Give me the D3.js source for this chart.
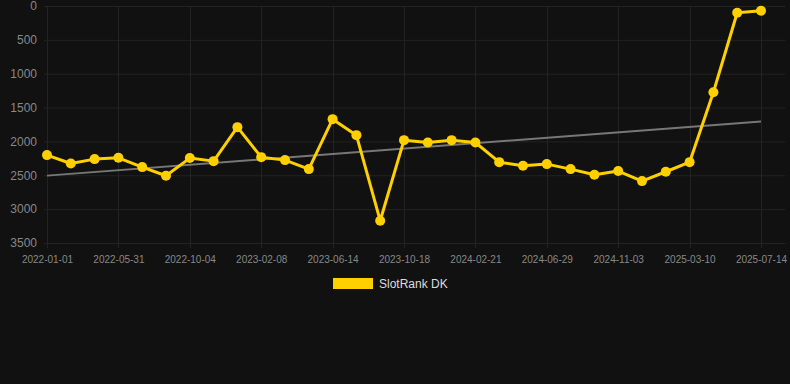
<!DOCTYPE html>
<html>
<head>
<meta charset="utf-8">
<script src="https://cdn.jsdelivr.net/npm/d3@7"></script>
<style>
  html, body { margin: 0; padding: 0; background: #111111; }
  svg { display: block; font-family: Arial, "Liberation Sans", sans-serif; }
</style>
</head>
<body>
<svg id="chart" width="790" height="384"></svg>
<script>
const dates = [
  '2022-01-01', '2022-02-20', '2022-04-11', '2022-05-31',
  '2022-07-12', '2022-08-23', '2022-10-04',
  '2022-11-15', '2022-12-27', '2023-02-08',
  '2023-03-22', '2023-05-03', '2023-06-14',
  '2023-07-26', '2023-09-06', '2023-10-18',
  '2023-11-29', '2024-01-10', '2024-02-21',
  '2024-04-03', '2024-05-16', '2024-06-29',
  '2024-08-10', '2024-09-22', '2024-11-03',
  '2024-12-15', '2025-01-26', '2025-03-10',
  '2025-04-21', '2025-06-02', '2025-07-14'
];
const rank = [
  2202, 2326, 2261, 2242, 2379, 2507, 2246, 2291, 1789, 2232,
  2276, 2409, 1671, 1907, 3171, 1981, 2016, 1981, 2016, 2306,
  2360, 2335, 2409, 2493, 2438, 2586, 2448, 2306, 1273, 99, 69
];
const trend = [2505, 1705]; // trend line value at first and last date
const yTicks = [0, 500, 1000, 1500, 2000, 2500, 3000, 3500];
const seriesName = 'SlotRank DK';

const width = 790, height = 384;
const margin = { top: 6, right: 29, bottom: 141, left: 47 };
const svg = d3.select('#chart');

const x = d3.scalePoint().domain(dates).range([margin.left, width - margin.right]);
const y = d3.scaleLinear().domain([0, 3500]).range([margin.top, height - margin.bottom]);

const shown = dates.filter((d, i) => i % 3 === 0);

// grid
const grid = svg.append('g');
grid.selectAll('.hg').data(yTicks).enter().append('line')
  .attr('x1', margin.left - 3).attr('x2', width - 5)
  .attr('y1', d => y(d) + 0.5).attr('y2', d => y(d) + 0.5)
  .attr('stroke', '#232323').attr('stroke-width', 1);
grid.selectAll('.vg').data(shown).enter().append('line')
  .attr('x1', d => Math.round(x(d)) + 0.5).attr('x2', d => Math.round(x(d)) + 0.5)
  .attr('y1', margin.top).attr('y2', y(3500) + 5)
  .attr('stroke', '#232323').attr('stroke-width', 1);

// axes
const yAxis = svg.append('g')
  .attr('transform', `translate(${margin.left - 10},0)`)
  .call(d3.axisLeft(y).tickValues(yTicks).tickFormat(d3.format('d')).tickSize(0).tickPadding(0));
yAxis.select('.domain').remove();
yAxis.selectAll('text').attr('fill', '#888').attr('font-size', 12);

const xAxis = svg.append('g')
  .attr('transform', `translate(0,${y(3500) + 5})`)
  .call(d3.axisBottom(x).tickValues(shown).tickSize(0).tickPadding(8));
xAxis.select('.domain').remove();
xAxis.selectAll('text').attr('fill', '#888').attr('font-size', 10);

// trend line
svg.append('line')
  .attr('x1', x(dates[0])).attr('y1', y(trend[0]))
  .attr('x2', x(dates[dates.length - 1])).attr('y2', y(trend[1]))
  .attr('stroke', '#777').attr('stroke-width', 2);

// series
const pts = dates.map((d, i) => ({ d, v: rank[i] }));
svg.append('path').datum(pts)
  .attr('fill', 'none').attr('stroke', '#ffd000').attr('stroke-width', 3)
  .attr('stroke-linejoin', 'round')
  .attr('d', d3.line().x(p => x(p.d)).y(p => y(p.v)));
svg.selectAll('.pt').data(pts).enter().append('circle')
  .attr('cx', p => x(p.d)).attr('cy', p => y(p.v)).attr('r', 5)
  .attr('fill', '#ffd000');

// legend
const legend = svg.append('g').attr('transform', 'translate(333,278)');
legend.append('rect').attr('width', 40).attr('height', 11).attr('fill', '#ffd000');
legend.append('text').attr('x', 46).attr('y', 10)
  .attr('fill', '#ddd').attr('font-size', 12).text(seriesName);
</script>
</body>
</html>
